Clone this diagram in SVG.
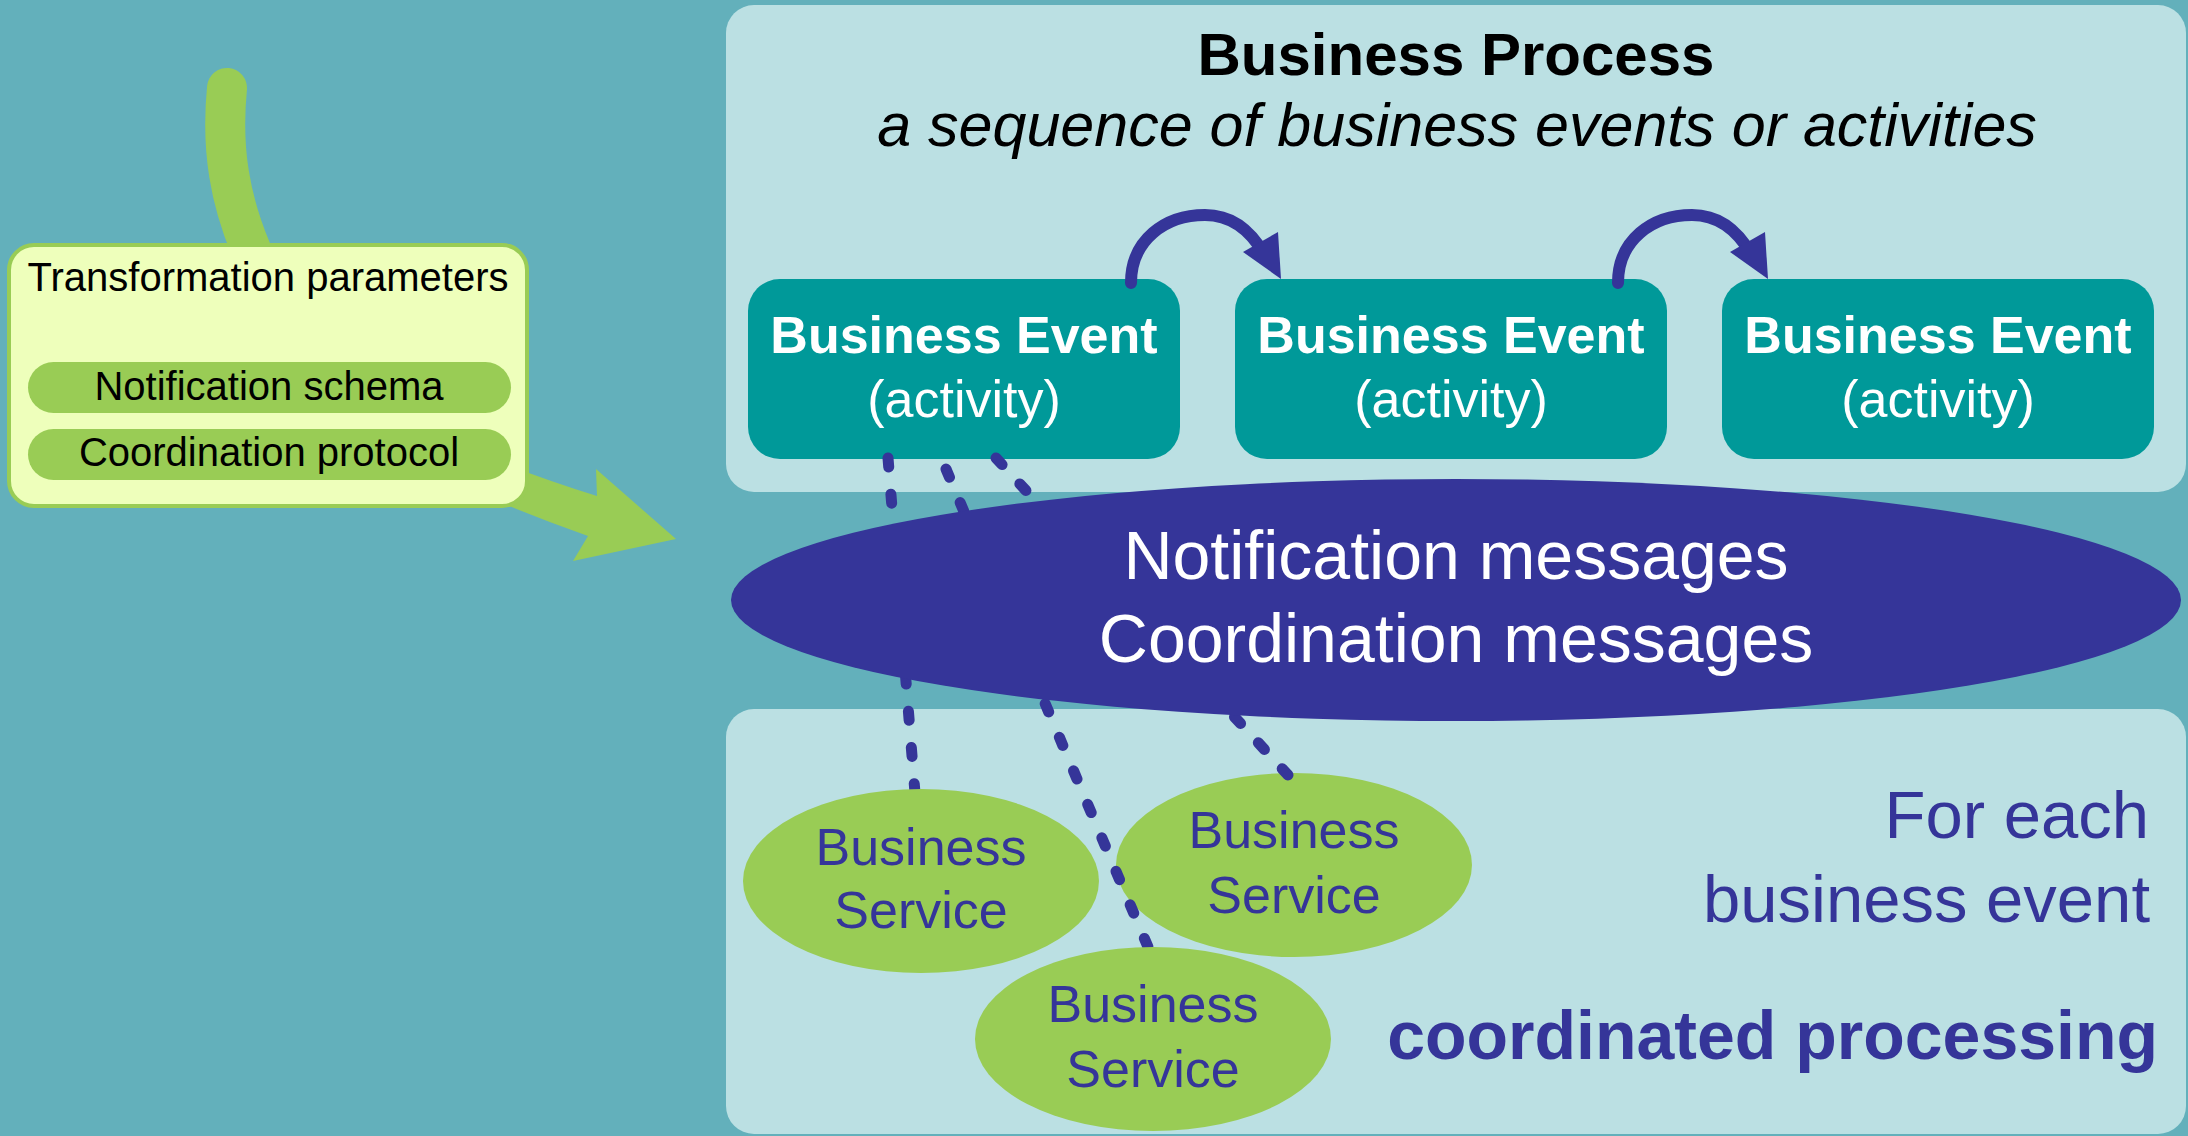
<svg xmlns="http://www.w3.org/2000/svg" width="2188" height="1136" viewBox="0 0 2188 1136">
<style>
.panel{fill:#BBE0E3}
.evt{fill:#009999}
.evt-t{font-family:"Liberation Sans",Arial,sans-serif;font-size:52px;fill:#fff;text-anchor:middle}
.svc{fill:#99CC55}
.svc-t{font-family:"Liberation Sans",Arial,sans-serif;font-size:52px;fill:#353599;text-anchor:middle}
.dash{fill:none;stroke:#353599;stroke-width:11;stroke-linecap:round;stroke-dasharray:9 27}
.pill{fill:#99CC55}
.pill-t{font-family:"Liberation Sans",Arial,sans-serif;font-size:40px;fill:#000;text-anchor:middle}
</style>
<rect width="2188" height="1136" fill="#63B0BB"/>

<g id="process-panel">
<rect class="panel" x="726" y="5" width="1460" height="487" rx="28"/>
<text x="1456" y="75" font-family="Liberation Sans,Arial,sans-serif" font-size="60" font-weight="bold" text-anchor="middle" fill="#000">Business Process</text>
<text x="1457" y="146" font-family="Liberation Sans,Arial,sans-serif" font-size="61" font-style="italic" text-anchor="middle" fill="#000">a sequence of business events or activities</text>
</g>

<g id="processing-panel">
<rect class="panel" x="726" y="709" width="1460" height="425" rx="28"/>
<text font-family="Liberation Sans,Arial,sans-serif" font-size="67" fill="#353599" text-anchor="end"><tspan x="2149" y="838">For each</tspan><tspan x="2150" y="922">business event</tspan></text>
<text x="2158" y="1059" font-family="Liberation Sans,Arial,sans-serif" font-size="68" font-weight="bold" fill="#353599" text-anchor="end">coordinated processing</text>
</g>

<g id="green-arrows">
<path d="M227 88 C221 150 230 200 252 252" fill="none" stroke="#99CC55" stroke-width="40" stroke-linecap="round"/>
<path d="M470 450 Q530 475 597 496 L596 469 L676 539 L573 561 L588 536 Q520 512 460 485 Z" fill="#99CC55"/>
</g>

<g id="transformation-parameters">
<rect x="9" y="245" width="518" height="261" rx="25" fill="#EEFFBB" stroke="#99CC55" stroke-width="4"/>
<text x="268" y="291" font-family="Liberation Sans,Arial,sans-serif" font-size="40" text-anchor="middle" fill="#000">Transformation parameters</text>
<rect class="pill" x="28" y="362" width="483" height="51" rx="25.5"/>
<text class="pill-t" x="269" y="400">Notification schema</text>
<rect class="pill" x="28" y="429" width="483" height="51" rx="25.5"/>
<text class="pill-t" x="269" y="466">Coordination protocol</text>
</g>

<g id="event-1">
<rect class="evt" x="748" y="279" width="432" height="180" rx="32"/>
<text class="evt-t" x="964" y="353" font-weight="bold">Business Event</text>
<text class="evt-t" x="964" y="417">(activity)</text>
</g>
<g id="event-2">
<rect class="evt" x="1235" y="279" width="432" height="180" rx="32"/>
<text class="evt-t" x="1451" y="353" font-weight="bold">Business Event</text>
<text class="evt-t" x="1451" y="417">(activity)</text>
</g>
<g id="event-3">
<rect class="evt" x="1722" y="279" width="432" height="180" rx="32"/>
<text class="evt-t" x="1938" y="353" font-weight="bold">Business Event</text>
<text class="evt-t" x="1938" y="417">(activity)</text>
</g>

<g id="service-2">
<ellipse class="svc" cx="1294" cy="865" rx="178" ry="92"/>
<text class="svc-t" x="1294" y="848">Business</text>
<text class="svc-t" x="1294" y="913">Service</text>
</g>

<g id="connectors">
<path class="dash" style="stroke-dasharray:9 27.3" d="M888 458 L915 793"/>
<path class="dash" style="stroke-dasharray:9 27.4" d="M946 469 L1148 947"/>
<path class="dash" style="stroke-dasharray:9 26.2" d="M996 458 L1288 775"/>
<path d="M1131 283 C1131 240 1165 215 1205 215 C1233 215 1252 233 1264 254" fill="none" stroke="#353599" stroke-width="12" stroke-linecap="round"/>
<polygon points="1281,279 1243,252 1278,232" fill="#353599"/>
<path d="M1618 283 C1618 240 1652 215 1692 215 C1720 215 1739 233 1751 254" fill="none" stroke="#353599" stroke-width="12" stroke-linecap="round"/>
<polygon points="1768,279 1730,252 1765,232" fill="#353599"/>
</g>

<g id="messages">
<ellipse cx="1456" cy="600" rx="725" ry="121" fill="#353599"/>
<text x="1456" y="579" font-family="Liberation Sans,Arial,sans-serif" font-size="68" fill="#fff" text-anchor="middle">Notification messages</text>
<text x="1456" y="662" font-family="Liberation Sans,Arial,sans-serif" font-size="68" fill="#fff" text-anchor="middle">Coordination messages</text>
</g>

<g id="service-1">
<ellipse class="svc" cx="921" cy="881" rx="178" ry="92"/>
<text class="svc-t" x="921" y="865">Business</text>
<text class="svc-t" x="921" y="928">Service</text>
</g>
<g id="service-3">
<ellipse class="svc" cx="1153" cy="1039" rx="178" ry="92"/>
<text class="svc-t" x="1153" y="1022">Business</text>
<text class="svc-t" x="1153" y="1087">Service</text>
</g>
</svg>
